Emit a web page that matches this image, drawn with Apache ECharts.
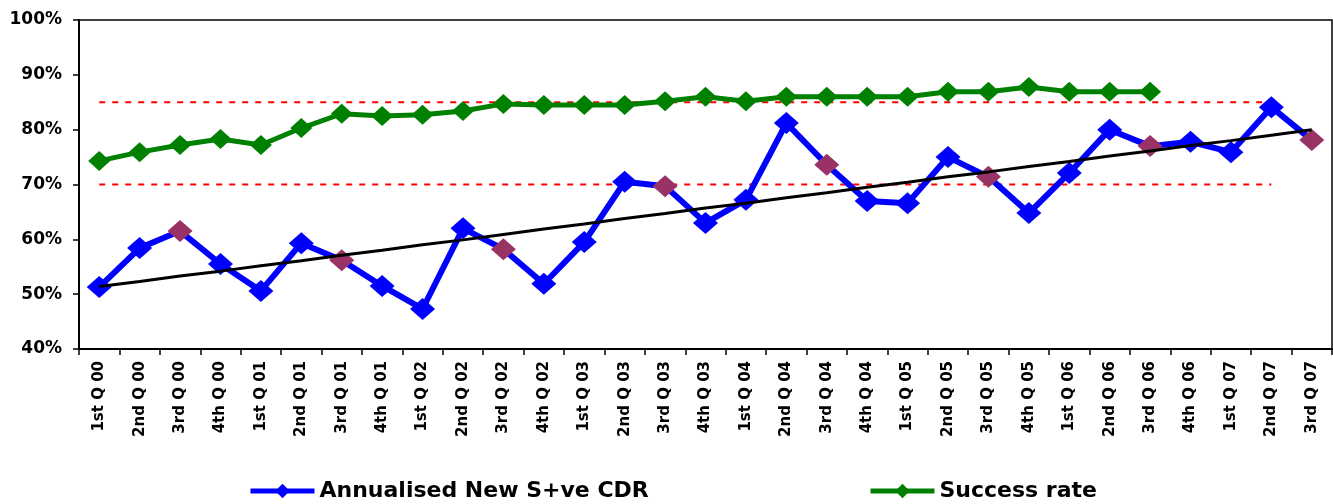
<!DOCTYPE html>
<html><head><meta charset="utf-8">
<script src="https://cdn.jsdelivr.net/npm/echarts@6/dist/echarts.min.js"></script>
<style>html,body{margin:0;padding:0;background:#fff}#c{width:1333px;height:504px}</style>
</head><body><div id="c"></div>
<script>
const categories = ['1st Q 00','2nd Q 00','3rd Q 00','4th Q 00','1st Q 01','2nd Q 01','3rd Q 01','4th Q 01','1st Q 02','2nd Q 02','3rd Q 02','4th Q 02','1st Q 03','2nd Q 03','3rd Q 03','4th Q 03','1st Q 04','2nd Q 04','3rd Q 04','4th Q 04','1st Q 05','2nd Q 05','3rd Q 05','4th Q 05','1st Q 06','2nd Q 06','3rd Q 06','4th Q 06','1st Q 07','2nd Q 07','3rd Q 07'];
const cdrValues = [51.3,58.4,61.5,55.5,50.6,59.3,56.2,51.5,47.3,62.0,58.2,51.9,59.5,70.5,69.7,63.0,67.2,81.2,73.6,67.0,66.6,75.0,71.4,64.8,72.1,80.0,77.0,77.8,75.9,84.1,78.1];
const successValues = [74.3,75.9,77.2,78.3,77.2,80.3,82.9,82.5,82.7,83.4,84.7,84.5,84.5,84.5,85.2,86.0,85.2,86.0,86.0,86.0,86.0,86.9,86.9,87.8,86.9,86.9,86.9,null,null,null,null];
const trendValues = [51.4,52.3,53.3,54.2,55.2,56.1,57.1,58.0,59.0,59.9,60.9,61.9,62.8,63.8,64.7,65.7,66.6,67.6,68.5,69.5,70.4,71.4,72.3,73.3,74.2,75.2,76.1,77.1,78.0,79.0,80.0];
const upperTarget = [85,85,85,85,85,85,85,85,85,85,85,85,85,85,85,85,85,85,85,85,85,85,85,85,85,85,85,85,85,85,null];
const lowerTarget = [70,70,70,70,70,70,70,70,70,70,70,70,70,70,70,70,70,70,70,70,70,70,70,70,70,70,70,70,70,70,null];
const yTicks = {min:40, max:100, interval:10};

const FONT = 'DejaVu Sans';
const cdrData = cdrValues.map((v,i)=> categories[i].startsWith('3rd') ? {value:v, itemStyle:{color:'#993366'}} : v);

const chart = echarts.init(document.getElementById('c'), null, {renderer:'canvas'});
chart.setOption({
  animation:false,
  backgroundColor:'#fff',
  grid:{left:79, right:1, top:20, bottom:155, show:true, borderColor:'#000', borderWidth:1.5},
  xAxis:{type:'category', data:categories, boundaryGap:true,
    axisLine:{lineStyle:{color:'#000', width:2}},
    axisTick:{show:true, length:6, lineStyle:{color:'#000', width:1.5}},
    axisLabel:{rotate:90, interval:0, margin:12, color:'#000', fontFamily:FONT, fontWeight:'bold', fontSize:15}},
  yAxis:{type:'value', min:yTicks.min, max:yTicks.max, interval:yTicks.interval,
    splitLine:{show:false},
    axisLine:{show:true, lineStyle:{color:'#000', width:2}},
    axisTick:{show:true, length:6, lineStyle:{color:'#000', width:1.5}},
    axisLabel:{formatter:'{value}%', margin:17, color:'#000', fontFamily:FONT, fontWeight:'bold', fontSize:17}},
  legend:[
    {data:['Annualised New S+ve CDR'], left:248, top:480, padding:0, itemWidth:64, itemHeight:18, itemGap:4,
      lineStyle:{width:5}, textStyle:{color:'#000', fontFamily:FONT, fontWeight:'bold', fontSize:22}},
    {data:['Success rate'], left:868, top:480, padding:0, itemWidth:64, itemHeight:18, itemGap:4,
      lineStyle:{width:5}, textStyle:{color:'#000', fontFamily:FONT, fontWeight:'bold', fontSize:22}}
  ],
  series:[
    {name:'upper', type:'line', data:upperTarget, symbol:'none', silent:true, z:1,
      lineStyle:{color:'#ff0000', width:2, type:[6,7]}},
    {name:'lower', type:'line', data:lowerTarget, symbol:'none', silent:true, z:1,
      lineStyle:{color:'#ff0000', width:2, type:[6,7]}},
    {name:'Success rate', type:'line', data:successValues, symbol:'diamond', symbolSize:[22,20], z:3,
      itemStyle:{color:'#008000'}, lineStyle:{color:'#008000', width:5}},
    {name:'Annualised New S+ve CDR', type:'line', data:cdrData, symbol:'diamond', symbolSize:[25,22], z:4,
      itemStyle:{color:'#0000ff'}, lineStyle:{color:'#0000ff', width:6}},
    {name:'trend', type:'line', data:trendValues, symbol:'none', z:5, silent:true,
      lineStyle:{color:'#000', width:3}}
  ]
});
</script></body></html>
